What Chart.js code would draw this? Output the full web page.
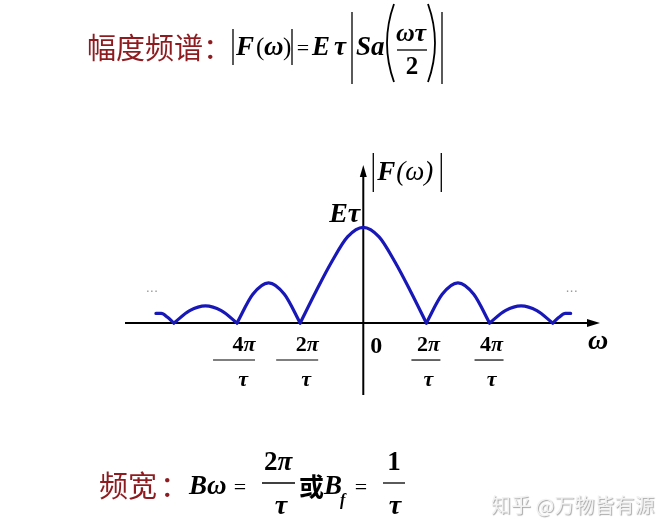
<!DOCTYPE html>
<html>
<head>
<meta charset="utf-8">
<script src="https://cdn.jsdelivr.net/npm/chart.js@4.4.1/dist/chart.umd.min.js"></script>
<style>
  html, body { margin: 0; padding: 0; background: #fff; }
  #wrap { width: 669px; height: 532px; }
</style>
</head>
<body>
<div id="wrap"><canvas id="spectrum" width="669" height="532"></canvas></div>
<script>
// omega in units of pi/tau, magnitude as a fraction of E*tau
const omega = [-6.57, -6.4, -6.2, -6, -5.5, -5, -4.5, -4, -3.5, -3, -2.5, -2,
  -1.5, -1, -0.5, 0, 0.5, 1, 1.5, 2, 2.5, 3, 3.5, 4, 4.5, 5, 5.5, 6, 6.2, 6.4, 6.57];
const magnitude = [0.10, 0.10, 0.06, 0, 0.13, 0.18, 0.13, 0, 0.30, 0.42, 0.30, 0,
  0.33, 0.64, 0.90, 1, 0.90, 0.64, 0.33, 0, 0.30, 0.42, 0.30, 0, 0.13, 0.18, 0.13, 0, 0.06, 0.10, 0.10];

// tick labels on the omega axis
const tickValues = [-4, -2, 2, 4];
const tickNumerators = ["4", "2", "2", "4"];
const tickDenominator = "τ";

const curveColor = "#1818b8";
const darkRed = "#8e1b1f";
const MATH = "'Liberation Serif', 'DejaVu Serif', serif";
const CJK = "'Noto Sans CJK SC', 'Noto Sans', sans-serif";

// split the curve into lobes at its zeros so the cusps stay sharp
function lobes() {
  const out = [];
  let cur = [];
  for (let i = 0; i < omega.length; i++) {
    cur.push({ x: omega[i], y: magnitude[i] });
    if (magnitude[i] === 0 && cur.length > 1) {
      out.push(cur);
      cur = [{ x: omega[i], y: 0 }];
    }
  }
  if (cur.length > 1) out.push(cur);
  return out;
}

const datasets = lobes().map(pts => ({
  data: pts,
  borderColor: curveColor,
  borderWidth: 3.2,
  pointRadius: 0,
  fill: false,
  cubicInterpolationMode: "monotone",
  borderCapStyle: "round"
}));

function line(ctx, x1, y1, x2, y2, w) {
  ctx.beginPath();
  ctx.lineWidth = w;
  ctx.moveTo(x1, y1);
  ctx.lineTo(x2, y2);
  ctx.stroke();
}

function text(ctx, s, x, y, font, align, color) {
  ctx.font = font;
  ctx.textAlign = align || "left";
  ctx.textBaseline = "middle";
  ctx.fillStyle = color || "#000";
  ctx.fillText(s, x, y);
}

// digit in bold upright followed by an italic pi, centred on cx
function piTerm(ctx, digit, cx, y, size) {
  const f1 = "bold " + size + "px " + MATH;
  const f2 = "bold italic " + size + "px " + MATH;
  ctx.font = f1;
  const w1 = ctx.measureText(digit).width;
  ctx.font = f2;
  const w2 = ctx.measureText("π").width;
  const left = cx - (w1 + w2) / 2;
  text(ctx, digit, left, y, f1);
  text(ctx, "π", left + w1, y, f2);
}

function paren(ctx, x, top, bottom, dir) {
  // dir = 1 for "(", -1 for ")"
  const mid = (top + bottom) / 2;
  ctx.beginPath();
  ctx.lineWidth = 1.8;
  ctx.moveTo(x, top);
  ctx.quadraticCurveTo(x - dir * 14, mid, x, bottom);
  ctx.stroke();
}

const decorations = {
  id: "decorations",
  beforeDatasetsDraw(chart) {
    const { ctx, scales: { x, y }, chartArea } = chart;
    const x0 = x.getPixelForValue(0);
    const y0 = y.getPixelForValue(0);
    ctx.save();
    ctx.strokeStyle = "#000";
    ctx.fillStyle = "#000";
    // omega axis with arrow
    line(ctx, chartArea.left, y0, chartArea.right - 8, y0, 2);
    ctx.beginPath();
    ctx.moveTo(chartArea.right, y0);
    ctx.lineTo(chartArea.right - 13, y0 - 4);
    ctx.lineTo(chartArea.right - 13, y0 + 4);
    ctx.closePath();
    ctx.fill();
    // |F| axis with arrow
    line(ctx, x0, chartArea.bottom, x0, chartArea.top + 8, 2);
    ctx.beginPath();
    ctx.moveTo(x0, chartArea.top);
    ctx.lineTo(x0 - 3.5, chartArea.top + 12);
    ctx.lineTo(x0 + 3.5, chartArea.top + 12);
    ctx.closePath();
    ctx.fill();
    ctx.restore();
  },
  afterDraw(chart) {
    const { ctx, scales: { x, y } } = chart;
    const x0 = x.getPixelForValue(0);
    const y0 = y.getPixelForValue(0);
    const yTop = y.getPixelForValue(1);
    ctx.save();
    ctx.strokeStyle = "#000";

    // tick fractions
    tickValues.forEach((v, i) => {
      const px = x.getPixelForValue(v);
      const neg = v < 0;
      piTerm(ctx, tickNumerators[i], px + (neg ? 7 : 2), y0 + 22, 22);
      if (neg) {
        line(ctx, px - 24, y0 + 37, px + 18, y0 + 37, 1.2);
      } else {
        line(ctx, px - 15, y0 + 37, px + 14, y0 + 37, 1.2);
      }
      text(ctx, tickDenominator, px + (neg ? 6 : 2), y0 + 57, "bold italic 22px " + MATH, "center");
    });
    text(ctx, "0", x0 + 13, y0 + 24, "bold 24px " + MATH, "center");
    text(ctx, "ω", 598, y0 + 19, "bold italic 28px " + MATH, "center");

    // |F(w)| label and E*tau
    line(ctx, x0 + 10, 153, x0 + 10, 192, 1.3);
    text(ctx, "F", x0 + 14, 173, "bold italic 27px " + MATH);
    text(ctx, "(ω)", x0 + 33, 173, "italic 27px " + MATH);
    line(ctx, x0 + 78, 153, x0 + 78, 192, 1.3);
    text(ctx, "Eτ", x0 - 3, yTop - 13, "bold italic 28px " + MATH, "right");

    // continuation dots
    text(ctx, "···", x.getPixelForValue(-6.7), 293, "13px 'DejaVu Sans', sans-serif", "center", "#9a9a9a");
    text(ctx, "···", x.getPixelForValue(6.6), 293, "13px 'DejaVu Sans', sans-serif", "center", "#9a9a9a");

    // title formula
    text(ctx, "幅度频谱", 87, 48, "29px " + CJK, "left", darkRed);
    text(ctx, "：", 203, 48, "29px " + CJK, "left", darkRed);
    line(ctx, 233, 29, 233, 65, 1.3);
    text(ctx, "F", 236, 48, "bold italic 27px " + MATH);
    text(ctx, "(", 256, 48, "25px " + MATH);
    text(ctx, "ω", 264, 48, "bold italic 27px " + MATH);
    text(ctx, ")", 283, 48, "25px " + MATH);
    line(ctx, 292, 29, 292, 65, 1.3);
    text(ctx, "=", 303, 49, "22px " + MATH, "center");
    text(ctx, "E", 312, 48, "bold italic 27px " + MATH);
    text(ctx, "τ", 334, 48, "bold italic 27px " + MATH);
    line(ctx, 352, 12, 352, 84, 1.3);
    text(ctx, "Sa", 356, 48, "bold italic 27px " + MATH);
    paren(ctx, 394, 4, 82, 1);
    text(ctx, "ωτ", 411, 34, "bold italic 26px " + MATH, "center");
    line(ctx, 397, 50, 427, 50, 1.3);
    text(ctx, "2", 412, 68, "bold 25px " + MATH, "center");
    paren(ctx, 428, 4, 82, -1);
    line(ctx, 442, 12, 442, 84, 1.3);

    // bandwidth formula
    text(ctx, "频宽", 99, 486, "29px " + CJK, "left", darkRed);
    text(ctx, "：", 160, 486, "29px " + CJK, "left", darkRed);
    text(ctx, "Bω", 189, 487, "bold italic 27px " + MATH);
    text(ctx, "=", 240, 488, "22px " + MATH, "center");
    piTerm(ctx, "2", 278, 463, 27);
    line(ctx, 262, 483, 295, 483, 1.3);
    text(ctx, "τ", 281, 507, "bold italic 28px " + MATH, "center");
    text(ctx, "或", 299, 486, "bold 25px " + CJK);
    text(ctx, "B", 324, 487, "bold italic 27px " + MATH);
    text(ctx, "f", 340, 501, "bold italic 16px " + MATH);
    text(ctx, "=", 361, 488, "22px " + MATH, "center");
    text(ctx, "1", 394, 463, "bold 27px " + MATH, "center");
    line(ctx, 383, 483, 405, 483, 1.3);
    text(ctx, "τ", 395, 507, "bold italic 28px " + MATH, "center");

    // watermark
    ctx.shadowColor = "rgba(0,0,0,0.35)";
    ctx.shadowOffsetX = 1;
    ctx.shadowOffsetY = 1;
    ctx.shadowBlur = 1;
    text(ctx, "知乎 @万物皆有源", 491, 505, "20px " + CJK, "left", "#f2f2f2");
    ctx.restore();
  }
};

const chart = new Chart(document.getElementById("spectrum"), {
  type: "line",
  data: { datasets: datasets },
  options: {
    responsive: false,
    animation: false,
    events: [],
    layout: { padding: { left: 125, right: 69, top: 165, bottom: 137 } },
    scales: {
      x: { type: "linear", min: -7.55, max: 7.5, display: false },
      y: { type: "linear", min: -0.752, max: 1.651, display: false }
    },
    plugins: {
      legend: { display: false },
      tooltip: { enabled: false }
    }
  },
  plugins: [decorations]
});
</script>
</body>
</html>
